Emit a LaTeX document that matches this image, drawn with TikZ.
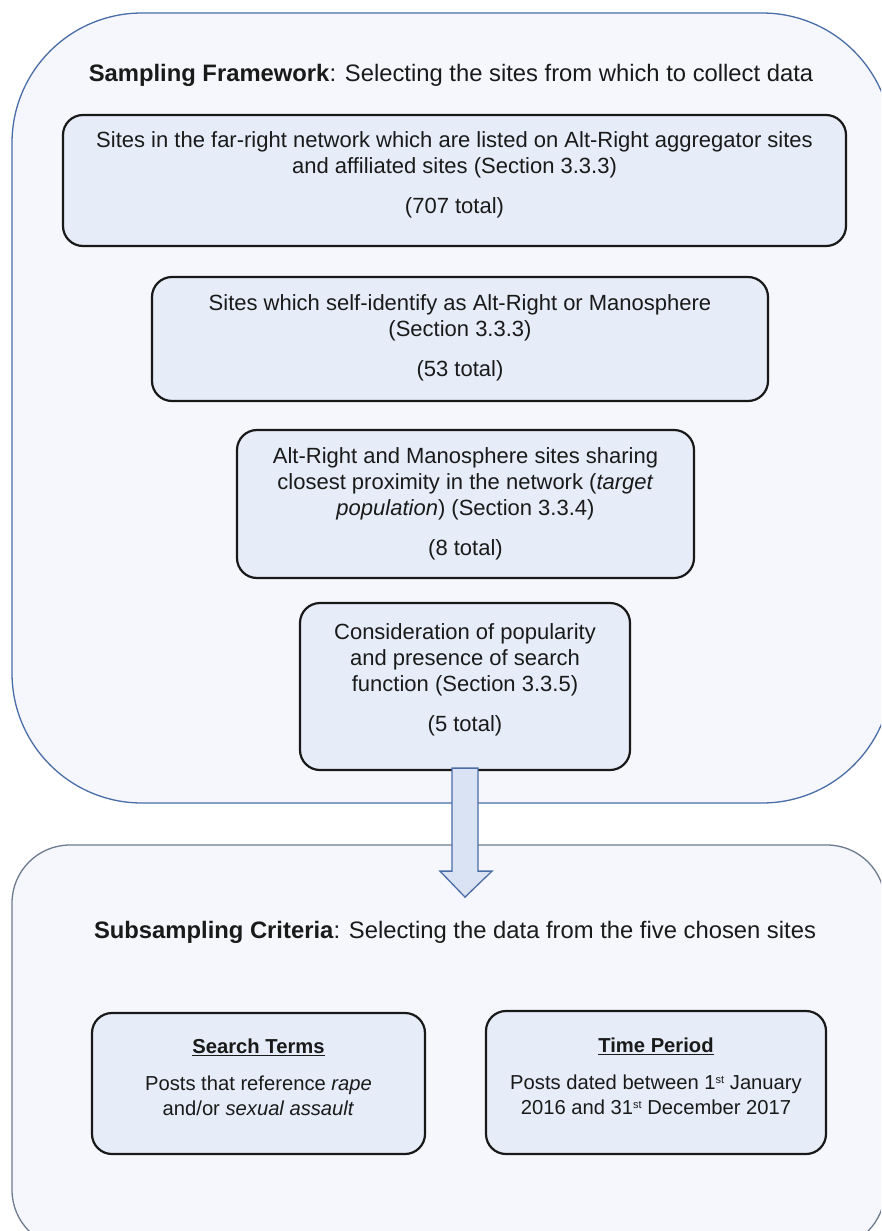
\documentclass[tikz,border=0pt]{standalone}
\usepackage{fontspec}
\setmainfont{Liberation Sans}
\definecolor{outerfill}{HTML}{F5F7FC}
\definecolor{outerblue}{HTML}{4A6DA7}
\definecolor{outergray}{HTML}{6E7B8E}
\definecolor{boxfill}{HTML}{E6EDF8}
\definecolor{arrowfill}{HTML}{DAE3F3}
\definecolor{txtcol}{HTML}{1A1A1A}
\tikzset{
  stagebox/.style={draw=black!90, line width=2.2pt, fill=boxfill, rounded corners=20pt, inner sep=0pt},
  txt/.style={align=center, text=txtcol, inner sep=0pt, font=\fontsize{22}{26}\selectfont},
  smalltxt/.style={align=center, text=txtcol, inner sep=0pt, font=\fontsize{20.2}{25}\selectfont},
  ttl/.style={align=center, text=txtcol, inner sep=0pt, font=\fontsize{23.8}{28}\selectfont},
  frametop/.style={draw=outerblue, line width=1.3pt, fill=outerfill},
  framebot/.style={draw=outergray, line width=1.3pt, fill=outerfill},
  blockarrow/.style={draw=outerblue, line width=1.3pt, fill=arrowfill, line join=miter}
}
\newcommand{\supsmall}[1]{\raisebox{0.55ex}{\fontsize{11}{11}\selectfont #1}}
\begin{document}
\begin{tikzpicture}[x=1pt,y=-1pt]
\useasboundingbox (0,0) rectangle (881,1231);
\clip (0,0) rectangle (881,1231);
% outer frames
\path[frametop, rounded corners=130pt] (12,13) rectangle (892,803);
\path[framebot, rounded corners=58pt] (12,845) rectangle (885,1248);

\node[ttl] (title1) at (451,75) {\textbf{Sampling Framework}: Selecting the sites from which to collect data};

\node[stagebox, minimum width=783pt, minimum height=131pt] (b1) at (454.5,180.5) {};
\node[txt] (t1) at (454.5,175) {Sites in the far-right network which are listed on Alt-Right aggregator sites\\and affiliated sites (Section 3.3.3)\\[14pt](707 total)};

\node[stagebox, minimum width=616pt, minimum height=124pt] (b2) at (460,339) {};
\node[txt] (t2) at (460,337.5) {Sites which self-identify as Alt-Right or Manosphere\\(Section 3.3.3)\\[14pt](53 total)};

\node[stagebox, minimum width=457pt, minimum height=148pt] (b3) at (465.5,504) {};
\node[txt] (t3) at (465.5,504) {Alt-Right and Manosphere sites sharing\\closest proximity in the network (\textit{target}\\\textit{population}) (Section 3.3.4)\\[14pt](8 total)};

\node[stagebox, minimum width=330pt, minimum height=167pt] (b4) at (465,686.5) {};
\node[txt] (t4) at (465,679.5) {Consideration of popularity\\and presence of search\\function (Section 3.3.5)\\[14pt](5 total)};

% block arrow
\coordinate (arrtop) at ([yshift=3pt]b4.south);
\path[blockarrow] ([xshift=-13pt]arrtop) -- ++(0,103) -- ++(-12,0) -- ++(25,26) -- ++(27,-26) -- ++(-14,0) -- ++(0,-103) -- cycle;

\node[ttl] (title2) at (455,932) {\textbf{Subsampling Criteria}: Selecting the data from the five chosen sites};

\node[stagebox, minimum width=333pt, minimum height=141pt] (s1) at (258.5,1083.5) {};
\node[smalltxt] (u1) at (258.5,1077) {\underline{\textbf{Search Terms}}\\[12pt]Posts that reference \textit{rape}\\and/or \textit{sexual assault}};

\node[stagebox, minimum width=340pt, minimum height=143pt] (s2) at (656,1082.5) {};
\node[smalltxt] (u2) at (656,1076) {\underline{\textbf{Time Period}}\\[12pt]Posts dated between 1\supsmall{st} January\\2016 and 31\supsmall{st} December 2017};
\end{tikzpicture}
\end{document}
